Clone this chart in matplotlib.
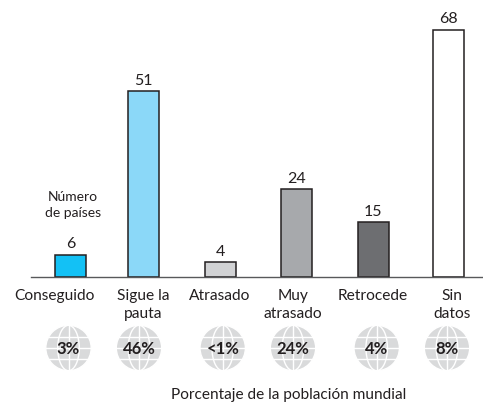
import matplotlib
matplotlib.use("Agg")
import matplotlib.pyplot as plt
from matplotlib.patches import Circle, Ellipse
import numpy as np

plt.rcParams['font.family'] = ['Lato', 'DejaVu Sans']

categories = ["Conseguido", "Sigue la\npauta", "Atrasado", "Muy\natrasado", "Retrocede", "Sin\ndatos"]
countries = [6, 51, 4, 24, 15, 68]
population = ["3%", "46%", "<1%", "24%", "4%", "8%"]
colors = ["#13c1f5", "#8bd8f8", "#d1d2d4", "#a7a9ac", "#6d6e71", "#ffffff"]
bar_x = [70.5, 143.5, 220.5, 296.5, 373, 448]
label_x = [54.5, 143, 220, 293, 373, 452]
globe_x = [68.5, 139, 222.7, 293, 376.7, 447]

W, H = 483, 404
BASE = 276.5
fig = plt.figure(figsize=(W/100, H/100), dpi=100, facecolor="white")

ov = fig.add_axes([0, 0, 1, 1])
ov.set_xlim(0, W); ov.set_ylim(H, 0); ov.axis("off")

ax = fig.add_axes([31/W, 1-BASE/H, (W-31)/W, BASE/H])
ax.patch.set_alpha(0)
ax.set_xlim(31, W)
ax.set_ylim(0, BASE/3.63)
for s in ["top", "left", "right"]:
    ax.spines[s].set_visible(False)
ax.spines["bottom"].set_color("#58595b")
ax.spines["bottom"].set_linewidth(1.0)
ax.set_xticks([]); ax.set_yticks([])

ax.bar(bar_x, countries, width=31, color=colors, edgecolor="#231f20", linewidth=1.1)
for x, v in zip(bar_x, countries):
    ax.annotate(str(v), (x, v), xytext=(0, 2.5), textcoords="offset points",
                ha="center", va="bottom", fontsize=11.5, color="#231f20")

txt = "#231f20"
ov.text(73, 205, "Número\nde países", ha="center", va="center", fontsize=10, color=txt, linespacing=1.45)
for x, c in zip(label_x, categories):
    ov.text(x, 289, c, ha="center", va="top", fontsize=11.2, color=txt, linespacing=1.35)

gray = "#d9dadb"
R = 22.7
GY = 348
LW = 1.0
for x, p in zip(globe_x, population):
    ov.add_patch(Circle((x, GY), R, fc=gray, ec="none", zorder=2))
    for w in [R*2, R*0.95]:
        ov.add_patch(Ellipse((x, GY), w, R*2, fc="none", ec="white", lw=LW, zorder=3))
    ov.plot([x, x], [GY-R, GY+R], color="white", lw=LW, zorder=3)
    ov.plot([x-R, x+R], [GY, GY], color="white", lw=LW, zorder=3)
    for dy in [-R*0.5, R*0.5]:
        hw = np.sqrt(R**2 - dy**2)
        ov.plot([x-hw, x+hw], [GY+dy, GY+dy], color="white", lw=LW, zorder=3)
    ov.text(x, GY+1, p, ha="center", va="center", fontsize=12, fontweight="bold", color=txt, zorder=4)

ov.text(289, 395, "Porcentaje de la población mundial", ha="center", va="center", fontsize=11.1, color=txt)

fig.savefig("out.png", dpi=100)
